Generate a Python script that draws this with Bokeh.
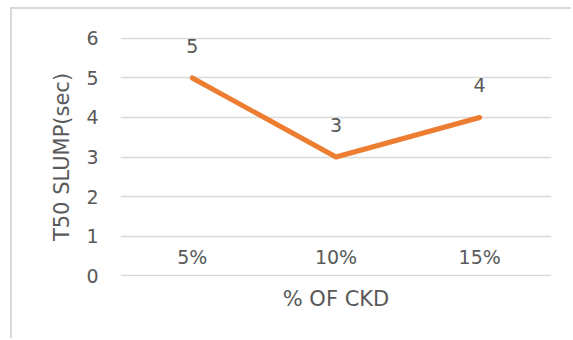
from bokeh.plotting import figure
from bokeh.models import Range1d, FixedTicker, ColumnDataSource
from bokeh.core.properties import value
from bokeh.embed import file_html
from bokeh.resources import INLINE

# CKD replacement levels and the measured T50 slump times
ckd_share = ["5%", "10%", "15%"]
t50_slump = [5, 3, 4]
y_ticks = [0, 1, 2, 3, 4, 5, 6]

FONT = "DejaVu Sans"
GREY = "#595959"
GRID = "#D9D9D9"
ORANGE = "#ED7D31"

p = figure(
    width=561, height=331,
    x_range=ckd_share, y_range=Range1d(-0.025, 6.025),
    output_backend="svg", toolbar_location=None,
    min_border_left=108, min_border_right=22,
    min_border_top=28, min_border_bottom=64,
    background_fill_color="white", border_fill_color="white",
)
p.x_range.range_padding = 0
p.outline_line_color = None

# light chart-area frame on the left and top
p.styles = {
    "margin-left": "10px",
    "margin-top": "7px",
    "border-left": f"2px solid {GRID}",
    "border-top": f"2px solid {GRID}",
}

# gridlines
p.xgrid.grid_line_color = None
p.ygrid.grid_line_color = GRID
p.ygrid.grid_line_width = 1.5

# y axis: value labels only
p.yaxis.ticker = FixedTicker(ticks=y_ticks)
p.yaxis.axis_line_color = None
p.yaxis.major_tick_line_color = None
p.yaxis.minor_tick_line_color = None
p.yaxis.major_label_standoff = 16
p.yaxis.major_label_text_font = FONT
p.yaxis.major_label_text_font_size = "19px"
p.yaxis.major_label_text_color = GREY
p.yaxis.axis_label = "T50 SLUMP(sec)"
p.yaxis.axis_label_text_font = FONT
p.yaxis.axis_label_text_font_size = "21px"
p.yaxis.axis_label_text_font_style = "normal"
p.yaxis.axis_label_text_color = GREY
p.yaxis.axis_label_standoff = 9

# x axis: category names sit just above the zero line
p.xaxis.axis_line_color = None
p.xaxis.major_tick_line_color = None
p.xaxis.minor_tick_line_color = None
p.xaxis.major_label_standoff = -37
p.xaxis.major_label_text_font = FONT
p.xaxis.major_label_text_font_size = "19px"
p.xaxis.major_label_text_color = GREY
p.xaxis.axis_label = "% OF CKD"
p.xaxis.axis_label_text_font = FONT
p.xaxis.axis_label_text_font_size = "21px"
p.xaxis.axis_label_text_font_style = "normal"
p.xaxis.axis_label_text_color = GREY
p.xaxis.axis_label_standoff = 16

src = ColumnDataSource(dict(
    x=ckd_share, y=t50_slump, label=[str(v) for v in t50_slump],
))

p.line("x", "y", source=src, line_color=ORANGE, line_width=5,
       line_cap="round", line_join="round")

# value labels above each point
p.text("x", "y", text="label", source=src, y_offset=-32,
       text_align="center", text_baseline="middle",
       text_font=value(FONT), text_font_size="19px", text_color=GREY)

open("out.html", "w").write(file_html(p, INLINE))
